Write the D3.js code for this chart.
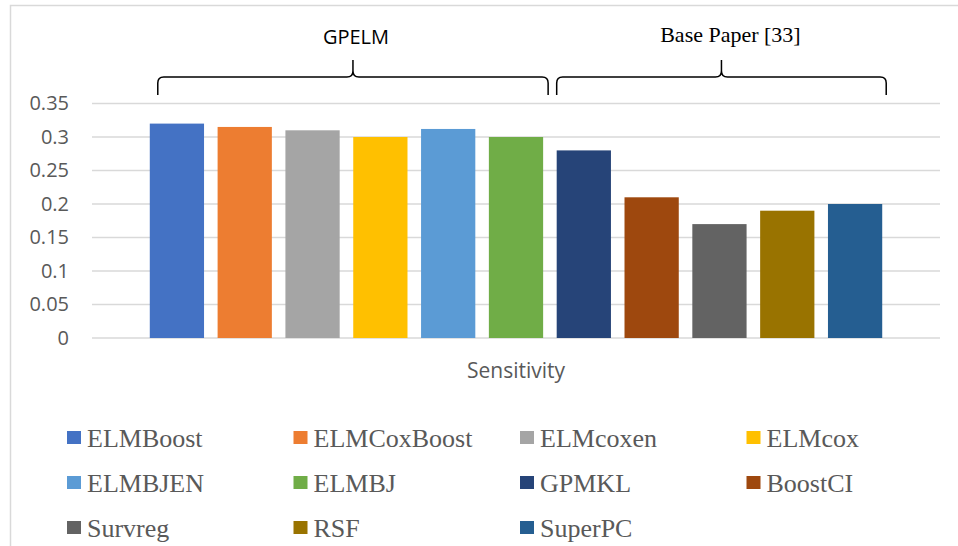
<!DOCTYPE html>
<html>
<head>
<meta charset="utf-8">
<script src="https://cdn.jsdelivr.net/npm/d3@7"></script>
<style>
  html, body { margin: 0; padding: 0; background: #fff; }
  svg { display: block; }
</style>
</head>
<body>
<svg id="chart" width="958" height="546"></svg>
<script>
const categories = ["ELMBoost","ELMCoxBoost","ELMcoxen","ELMcox","ELMBJEN","ELMBJ","GPMKL","BoostCI","Survreg","RSF","SuperPC"];
const values = [0.32, 0.315, 0.31, 0.30, 0.312, 0.30, 0.28, 0.21, 0.17, 0.19, 0.20];
const colors = ["#4472C4","#ED7D31","#A5A5A5","#FFC000","#5B9BD5","#70AD47","#264478","#9E480E","#636363","#997300","#255E91"];
const yTicks = [0, 0.05, 0.1, 0.15, 0.2, 0.25, 0.3, 0.35];
const axisTitle = "Sensitivity";
const groups = [
  { label: "GPELM", first: "ELMBoost", last: "ELMBJ", font: "'Open Sans', sans-serif", size: 20 },
  { label: "Base Paper [33]", first: "GPMKL", last: "SuperPC", font: "'Liberation Serif', 'Times New Roman', serif", size: 22 }
];

const svg = d3.select("#chart");

// chart frame
svg.append("rect").attr("x", 10.5).attr("y", 5.5).attr("width", 1000).attr("height", 600)
  .attr("fill", "none").attr("stroke", "#d9d9d9").attr("stroke-width", 1.5);

const plotLeft = 92, plotRight = 940;
const x = d3.scaleBand().domain(categories).range([143, 889]).paddingInner(0.2).paddingOuter(0.1);
const y = d3.scaleLinear().domain([0, 0.35]).range([338, 103.5]);

// gridlines
svg.append("g").selectAll("line").data(yTicks).join("line")
  .attr("x1", plotLeft).attr("x2", plotRight)
  .attr("y1", d => y(d)).attr("y2", d => y(d))
  .attr("stroke", "#d9d9d9").attr("stroke-width", 1.5);

// y axis labels
const yAxis = d3.axisLeft(y).tickValues(yTicks).tickSize(0).tickPadding(0)
  .tickFormat(d => d3.format("")(+d.toFixed(2)));
const ga = svg.append("g").attr("transform", "translate(69,0)").call(yAxis);
ga.select(".domain").remove();
ga.selectAll("text").attr("font-family", "'Open Sans', sans-serif").attr("font-size", 20)
  .attr("fill", "#595959");

// bars
svg.append("g").selectAll("rect").data(categories).join("rect")
  .attr("x", d => x(d)).attr("width", x.bandwidth())
  .attr("y", (d, i) => y(values[i])).attr("height", (d, i) => y(0) - y(values[i]))
  .attr("fill", (d, i) => colors[i]);

// axis title
svg.append("text").attr("x", (plotLeft + plotRight) / 2).attr("y", 378)
  .attr("text-anchor", "middle").attr("font-family", "'Open Sans', sans-serif")
  .attr("font-size", 21).attr("fill", "#595959").text(axisTitle);

// braces
function bracePath(x1, x2) {
  const xm = (x1 + x2) / 2, yb = 95, yt = 77, ytip = 60, r = 6;
  return `M${x1},${yb} L${x1},${yt + r} Q${x1},${yt} ${x1 + r},${yt} L${xm - r},${yt} Q${xm},${yt} ${xm},${yt - r} L${xm},${ytip} L${xm},${yt - r} Q${xm},${yt} ${xm + r},${yt} L${x2 - r},${yt} Q${x2},${yt} ${x2},${yt + r} L${x2},${yb}`;
}
groups.forEach((g, gi) => {
  const x1 = gi === 0 ? x(g.first) + 8 : x(g.first);
  const x2 = x(g.last) + x.bandwidth() + (gi === 0 ? 5 : 4);
  svg.append("path").attr("d", bracePath(x1, x2)).attr("fill", "none")
    .attr("stroke", "#000").attr("stroke-width", 1.5);
  svg.append("text").attr("x", (x1 + x2) / 2 + (gi === 0 ? 3 : 9)).attr("y", gi === 0 ? 44 : 42)
    .attr("text-anchor", "middle").attr("font-family", g.font).attr("font-size", g.size)
    .attr("fill", "#000").text(g.label);
});

// legend
const legend = svg.append("g").selectAll("g").data(categories).join("g")
  .attr("transform", (d, i) => `translate(${67 + (i % 4) * 226.5},${431 + Math.floor(i / 4) * 45})`);
legend.append("rect").attr("width", 14).attr("height", 13).attr("fill", (d, i) => colors[i]);
legend.append("text").attr("x", 20).attr("y", 15.5)
  .attr("font-family", "'Liberation Serif', 'Times New Roman', serif").attr("font-size", 26)
  .attr("fill", "#595959").text(d => d);
</script>
</body>
</html>
